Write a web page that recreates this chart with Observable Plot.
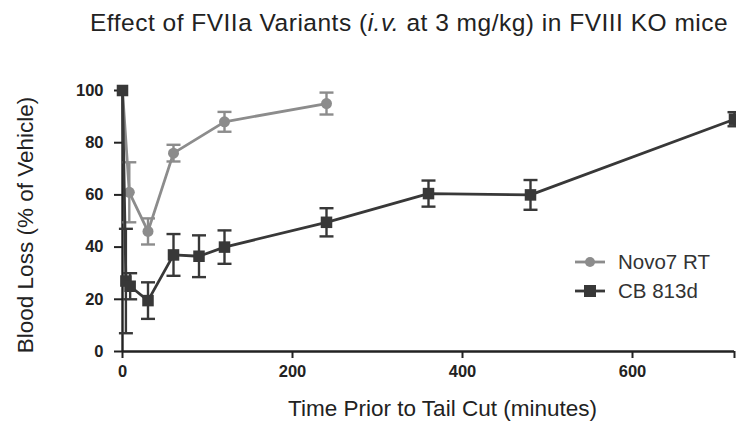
<!DOCTYPE html>
<html>
<head>
<meta charset="utf-8">
<script src="https://cdn.jsdelivr.net/npm/d3@7"></script>
<script src="https://cdn.jsdelivr.net/npm/@observablehq/plot@0.6"></script>
<style>
  body { margin: 0; background: #fff; font-family: "Liberation Sans", Arial, sans-serif; }
  #wrap { position: relative; width: 736px; height: 441px; overflow: hidden; }
  #title { position: absolute; left: 90px; top: 9px; font-size: 24.5px; color: #222; white-space: nowrap; letter-spacing: 0.5px; }
  #legend { position: absolute; left: 574px; top: 247px; font-size: 20.5px; color: #333; }
  .row { display: flex; align-items: center; height: 29px; }
  .row svg { margin-right: 12px; }
</style>
</head>
<body>
<div id="wrap">
  <div id="title">Effect of FVIIa Variants (<i>i.v.</i> at 3 mg/kg) in FVIII KO mice</div>
  <div id="chart"></div>
  <div id="legend"></div>
</div>
<script>
// Data
const seriesNames = ["Novo7 RT", "CB 813d"];
const seriesColors = ["#8c8c8c", "#383838"];

const novoTime  = [0, 8, 30, 60, 120, 240];
const novoValue = [100, 61, 46, 76, 88, 95];
const novoErr   = [0, 11.5, 5, 3.2, 3.8, 4.2];

const cbTime  = [0, 4, 9, 30, 60, 90, 120, 240, 360, 480, 720];
const cbValue = [100, 27, 25, 19.5, 37, 36.5, 40, 49.5, 60.5, 60, 89];
const cbErr   = [0, 20, 5, 7, 8, 8, 6.4, 5.4, 5, 5.7, 2.7];

const xTicks = [0, 200, 400, 600];
const yTicks = [0, 20, 40, 60, 80, 100];
const xLabel = "Time Prior to Tail Cut (minutes)";
const yLabel = "Blood Loss (% of Vehicle)";

const novo = novoTime.map((t, i) => ({t, v: novoValue[i], e: novoErr[i], s: seriesNames[0]}));
const cb = cbTime.map((t, i) => ({t, v: cbValue[i], e: cbErr[i], s: seriesNames[1]}));

const hline = {
  draw(ctx, size) {
    const r = Math.sqrt(size / Math.PI);
    ctx.moveTo(-r, 0); ctx.lineTo(r, 0);
  }
};

function seriesMarks(data, color, symbol, r) {
  const withErr = data.filter(d => d.e > 0);
  return [
    Plot.line(data, {x: "t", y: "v", stroke: color, strokeWidth: 2.8}),
    Plot.ruleX(withErr, {x: "t", y1: d => d.v - d.e, y2: d => d.v + d.e, stroke: color, strokeWidth: 2.4}),
    Plot.dot(withErr, {x: "t", y: d => d.v + d.e, symbol: hline, r: 7, stroke: color, strokeWidth: 2.4}),
    Plot.dot(withErr, {x: "t", y: d => d.v - d.e, symbol: hline, r: 7, stroke: color, strokeWidth: 2.4}),
    Plot.dot(data, {x: "t", y: "v", symbol, r, fill: color, stroke: "none"})
  ];
}

const chart = Plot.plot({
  width: 736,
  height: 441,
  marginLeft: 122,
  marginRight: 2,
  marginTop: 90,
  marginBottom: 90,
  style: {fontFamily: "Liberation Sans, Arial, sans-serif", background: "#fff", overflow: "visible"},
  x: {domain: [0, 720]},
  y: {domain: [0, 100]},
  marks: [
    Plot.axisY(yTicks, {tickSize: 8, tickPadding: 11, fontSize: 16.5, fontWeight: "bold", stroke: "#222", strokeWidth: 2, fill: "#222", label: null}),
    Plot.axisX([...xTicks, 720], {tickSize: 7, tickPadding: 7, fontSize: 16.5, fontWeight: "bold", stroke: "#222", strokeWidth: 2, fill: "#222",
      tickFormat: d => d === 720 ? "" : d, label: null}),
    Plot.text([yLabel], {frameAnchor: "left", rotate: -90, dx: -97, dy: 4, fontSize: 22.5, fill: "#222", textAnchor: "middle"}),
    Plot.text([xLabel], {frameAnchor: "bottom", dy: 64, dx: 14, fontSize: 22.5, fill: "#222", textAnchor: "middle"}),
    Plot.ruleX([0], {stroke: "#222", strokeWidth: 2.4}),
    Plot.ruleY([0], {stroke: "#222", strokeWidth: 2.4}),
    ...seriesMarks(novo, seriesColors[0], "circle", 5.5),
    ...seriesMarks(cb, seriesColors[1], "square", 6.5)
  ]
});

document.getElementById("chart").appendChild(chart);

// Legend
const legend = d3.select("#legend");
seriesNames.forEach((name, i) => {
  const row = legend.append("div").attr("class", "row");
  const svg = row.append("svg").attr("width", 32).attr("height", 14);
  svg.append("line").attr("x1", 1).attr("x2", 31).attr("y1", 7).attr("y2", 7)
    .attr("stroke", seriesColors[i]).attr("stroke-width", 2.8);
  if (i === 0) svg.append("circle").attr("cx", 16).attr("cy", 7).attr("r", 5).attr("fill", seriesColors[i]);
  else svg.append("rect").attr("x", 10).attr("y", 1).attr("width", 12).attr("height", 12).attr("fill", seriesColors[i]);
  row.append("span").text(name);
});
</script>
</body>
</html>
